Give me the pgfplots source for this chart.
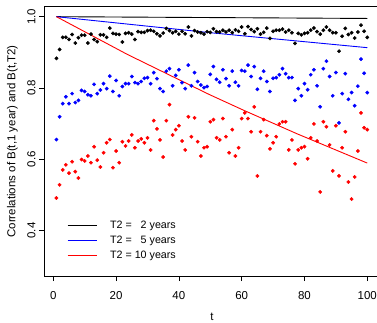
\documentclass[border=0pt]{standalone}
\usepackage{fontspec}
\setmainfont{Liberation Sans}
\usepackage{pgfplots}
\usepackage{pgfplotstable}
\pgfplotsset{compat=1.18}

\pgfplotstableread{
t v
1 0.883
2 0.908
3 0.942
4 0.942
5 0.936
6 0.950
7 0.926
8 0.941
9 0.948
10 0.948
11 0.926
12 0.951
13 0.936
14 0.930
15 0.949
16 0.949
17 0.942
18 0.968
19 0.953
20 0.951
21 0.950
22 0.929
23 0.953
24 0.955
25 0.951
26 0.936
27 0.958
28 0.956
29 0.956
30 0.961
31 0.962
32 0.959
33 0.952
34 0.946
35 0.954
36 0.967
37 0.961
38 0.955
39 0.959
40 0.951
41 0.959
42 0.952
43 0.971
44 0.946
45 0.961
46 0.957
47 0.955
48 0.951
49 0.958
50 0.956
51 0.966
52 0.958
53 0.957
54 0.962
55 0.957
56 0.962
57 0.955
58 0.963
59 0.959
60 0.971
61 0.952
62 0.972
63 0.964
64 0.958
65 0.966
66 0.951
67 0.956
68 0.968
69 0.939
70 0.959
71 0.962
72 0.962
73 0.965
74 0.957
75 0.962
76 0.955
77 0.925
78 0.953
79 0.949
80 0.953
81 0.955
82 0.962
83 0.968
84 0.958
85 0.951
86 0.962
87 0.971
88 0.962
89 0.955
90 0.955
91 0.903
92 0.945
93 0.967
94 0.950
95 0.955
96 0.940
97 0.957
98 0.976
99 0.959
100 0.942
}\blackdata

\pgfplotstableread{
t v
1 0.655
2 0.719
3 0.756
4 0.775
5 0.756
6 0.784
7 0.759
8 0.765
9 0.793
10 0.790
11 0.781
12 0.778
13 0.810
14 0.784
15 0.794
16 0.812
17 0.798
18 0.833
19 0.790
20 0.821
21 0.778
22 0.804
23 0.812
24 0.812
25 0.832
26 0.815
27 0.812
28 0.818
29 0.827
30 0.829
31 0.812
32 0.843
33 0.826
34 0.798
35 0.790
36 0.847
37 0.854
38 0.806
39 0.835
40 0.851
41 0.815
42 0.798
43 0.864
44 0.806
45 0.843
46 0.818
47 0.808
48 0.801
49 0.804
50 0.838
51 0.860
52 0.824
53 0.816
54 0.851
55 0.826
56 0.806
57 0.847
58 0.816
59 0.806
60 0.849
61 0.847
62 0.864
63 0.832
64 0.860
65 0.796
66 0.827
67 0.847
68 0.818
69 0.790
70 0.827
71 0.829
72 0.837
73 0.854
74 0.840
75 0.829
76 0.829
77 0.765
78 0.798
79 0.778
80 0.812
81 0.795
82 0.837
83 0.851
84 0.806
85 0.747
86 0.854
87 0.875
88 0.832
89 0.778
90 0.843
91 0.702
92 0.784
93 0.840
94 0.768
95 0.787
96 0.750
97 0.805
98 0.881
99 0.841
100 0.787
}\bluedata

\pgfplotstableread{
t v
1 0.491
2 0.528
3 0.570
4 0.584
5 0.561
6 0.593
7 0.565
8 0.547
9 0.599
10 0.595
11 0.609
12 0.590
13 0.635
14 0.597
15 0.578
16 0.618
17 0.646
18 0.655
19 0.576
20 0.623
21 0.590
22 0.649
23 0.637
24 0.651
25 0.668
26 0.632
27 0.651
28 0.657
29 0.646
30 0.660
31 0.626
32 0.708
33 0.685
34 0.654
35 0.606
36 0.708
37 0.753
38 0.668
39 0.683
40 0.694
41 0.651
42 0.626
43 0.719
44 0.663
45 0.716
46 0.649
47 0.609
48 0.632
49 0.635
50 0.705
51 0.711
52 0.660
53 0.654
54 0.714
55 0.663
56 0.618
57 0.683
58 0.609
59 0.632
60 0.714
61 0.730
62 0.714
63 0.677
64 0.747
65 0.553
66 0.677
67 0.711
68 0.666
69 0.629
70 0.646
71 0.663
72 0.699
73 0.705
74 0.705
75 0.626
76 0.654
77 0.587
78 0.626
79 0.632
80 0.635
81 0.601
82 0.660
83 0.699
84 0.651
85 0.508
86 0.705
87 0.691
88 0.640
89 0.567
90 0.694
91 0.553
92 0.632
93 0.677
94 0.536
95 0.488
96 0.550
97 0.623
98 0.730
99 0.688
100 0.683
}\reddata

\begin{document}
\begin{tikzpicture}
\begin{axis}[
  scale only axis,
  width=335.7pt, height=269.3pt,
  xmin=-2.96, xmax=103.96,
  ymin=0.272, ymax=1.028,
  xtick={0,20,40,60,80,100},
  ytick={0.4,0.6,0.8,1.0},
  xtick pos=lower, ytick pos=left,
  tick align=outside,
  major tick length=5pt,
  tick style={black, line width=0.6pt},
  axis line style={line width=0.7pt},
  /pgf/number format/assume math mode=true,
  yticklabel style={/pgf/number format/.cd, fixed, fixed zerofill, precision=1, /tikz/.cd, rotate=90, anchor=south},
  xticklabel style={yshift=-7pt},
  tick label style={font=\fontsize{11.5}{13}\selectfont},
  ylabel={Correlations of B(t,1 year) and B(t,T2)},
  every axis y label/.style={at={(axis description cs:-0.0938,0.5)}, rotate=90, anchor=center, font=\fontsize{11.5}{13}\selectfont},
  xlabel={t},
  every axis x label/.style={at={(axis description cs:0.5,0)}, anchor=base, yshift=-44.5pt, font=\fontsize{11.5}{13}\selectfont},
  legend cell align=left,
  legend image post style={xscale=1.7},
  legend style={draw=none, fill=none, inner sep=0pt,
    at={(axis description cs:0.0685,0.208)}, anchor=north west,
    font=\fontsize{10.7}{12}\selectfont,
    nodes={inner sep=0pt, text height=8pt, text depth=2pt},
    row sep=5.2pt,
    /tikz/every odd column/.append style={column sep=13pt}},
]
\addplot[only marks, mark=*, mark size=1.7pt, black, forget plot] table[x=t,y=v] {\blackdata};
\addplot[only marks, mark=*, mark size=1.7pt, blue, forget plot] table[x=t,y=v] {\bluedata};
\addplot[only marks, mark=*, mark size=1.7pt, red, forget plot] table[x=t,y=v] {\reddata};
\addplot[draw=black, line width=0.9pt] coordinates {(1,1.0) (100,0.995)};
\addlegendentry{T2 = \phantom{1}2 years}
\addplot[draw=blue, line width=0.9pt] coordinates {(1,1.0) (50,0.955) (100,0.913)};
\addlegendentry{T2 = \phantom{1}5 years}
\addplot[draw=red, line width=0.9pt] coordinates {(1,1.0) (23.6,0.894) (49.8,0.781) (60.7,0.737) (77.7,0.671) (100,0.589)};
\addlegendentry{T2 = 10 years}
\end{axis}
\pgfresetboundingbox
\path[use as bounding box] ([xshift=-44pt,yshift=-46pt]current axis.south west) rectangle ([xshift=333pt,yshift=276pt]current axis.south west);
\end{tikzpicture}
\end{document}
